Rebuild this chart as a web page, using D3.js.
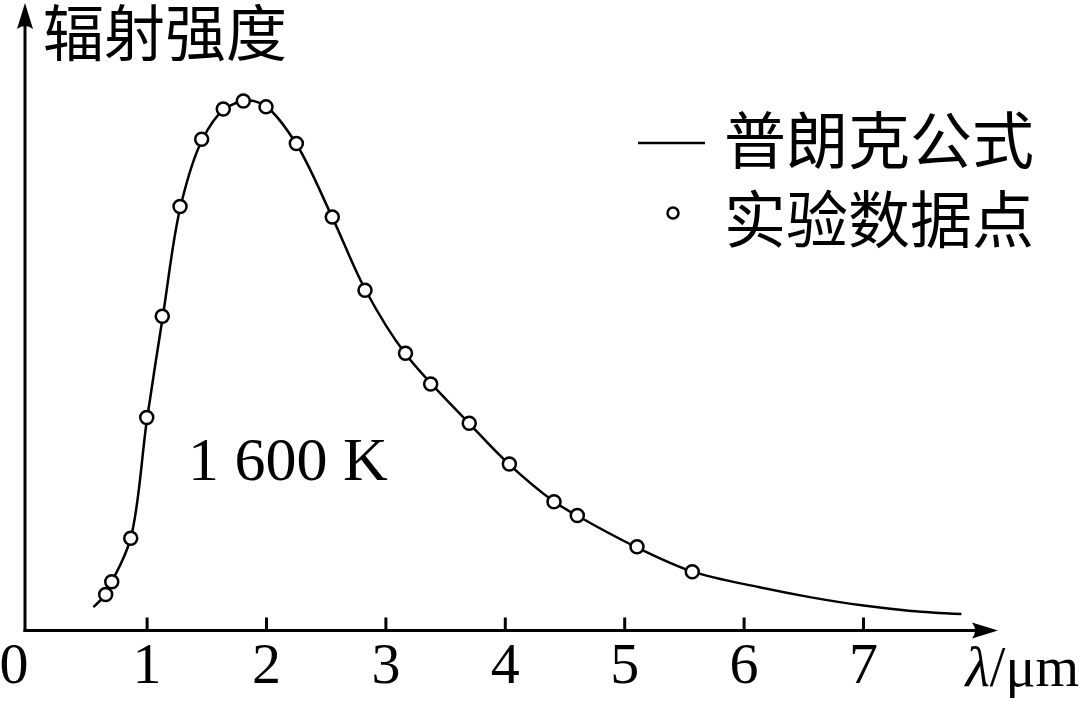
<!DOCTYPE html>
<html>
<head>
<meta charset="utf-8">
<script src="https://cdn.jsdelivr.net/npm/d3@7"></script>
<style>
  body { margin: 0; background: #fff; }
  svg { display: block; }
</style>
</head>
<body>
<svg class="chart"></svg>
<script>
var W = 1080, H = 704;

// measured points (wavelength in um, relative intensity)
var dataX = [0.653, 0.704, 0.863, 0.997, 1.127, 1.276, 1.457, 1.638, 1.806, 1.996, 2.250,
             2.551, 2.825, 3.164, 3.375, 3.698, 4.034, 4.408, 4.603, 5.103, 5.566];
var dataY = [0.068, 0.092, 0.174, 0.402, 0.593, 0.800, 0.927, 0.984, 0.999, 0.988, 0.919,
             0.780, 0.642, 0.523, 0.465, 0.391, 0.314, 0.243, 0.217, 0.158, 0.111];

// planck curve
var curveX = [0.55, 0.65, 0.70, 0.86, 1.0, 1.13, 1.28, 1.46, 1.64, 1.85, 2.0, 2.25, 2.55,
              2.83, 3.16, 3.70, 4.03, 4.41, 4.60, 5.10, 5.57, 6.13, 6.55, 7.0, 7.4, 7.82];
var curveY = [0.044, 0.068, 0.090, 0.172, 0.40, 0.59, 0.80, 0.925, 0.982, 1.0, 0.988, 0.918, 0.78,
              0.642, 0.523, 0.39, 0.314, 0.243, 0.217, 0.157, 0.111, 0.0815, 0.063, 0.047, 0.037, 0.031];

var xTicks = [1, 2, 3, 4, 5, 6, 7];
var yTitle = "辐射强度";
var xTitle = ["λ", "/μm"];
var legendItems = ["普朗克公式", "实验数据点"];
var tempLabel = "1 600 K";

var ox = 25, oy = 630.5;
var x = d3.scaleLinear().domain([0, 8]).range([27.7, 27.7 + 8 * 119.4]);
var y = d3.scaleLinear().domain([0, 1]).range([oy, oy - 530]);

var svg = d3.select('.chart')
  .attr("width", W)
  .attr("height", H);

var serif = "'Liberation Serif', 'DejaVu Serif', serif";
var cjk = "'Noto Sans CJK SC', sans-serif";

// axes
svg.append("line")
  .attr("x1", ox - 1.5).attr("y1", oy)
  .attr("x2", 990).attr("y2", oy)
  .attr("stroke", "#000").attr("stroke-width", 3);
svg.append("path")
  .attr("d", "M998," + oy + " L972," + (oy - 8) + " Q978," + oy + " 972," + (oy + 8) + " Z")
  .attr("fill", "#000");

svg.append("line")
  .attr("x1", ox).attr("y1", oy + 1.5)
  .attr("x2", ox).attr("y2", 12)
  .attr("stroke", "#000").attr("stroke-width", 3);
svg.append("path")
  .attr("d", "M" + ox + ",3 L" + (ox - 8) + ",29 Q" + ox + ",23 " + (ox + 8) + ",29 Z")
  .attr("fill", "#000");

// ticks
svg.selectAll(".tick")
  .data(xTicks)
  .enter().append("line")
  .attr("class", "tick")
  .attr("x1", function(d) { return x(d); })
  .attr("x2", function(d) { return x(d); })
  .attr("y1", oy).attr("y2", oy - 13)
  .attr("stroke", "#000").attr("stroke-width", 3);

svg.selectAll(".tlabel")
  .data([0].concat(xTicks))
  .enter().append("text")
  .attr("class", "tlabel")
  .attr("x", function(d) { return d == 0 ? 14 : x(d); })
  .attr("y", 683)
  .attr("text-anchor", "middle")
  .attr("font-family", serif)
  .attr("font-size", 58)
  .text(function(d) { return d; });

var xt = svg.append("text")
  .attr("x", 1079).attr("y", 686)
  .attr("text-anchor", "end")
  .attr("font-family", serif)
  .attr("font-size", 56);
xt.append("tspan").attr("font-style", "italic").text(xTitle[0]);
xt.append("tspan").text(xTitle[1]);

svg.append("text")
  .attr("x", 43).attr("y", 56)
  .attr("font-family", cjk)
  .attr("font-size", 61)
  .text(yTitle);

// curve
var line = d3.line()
  .x(function(d) { return x(d[0]); })
  .y(function(d) { return y(d[1]); })
  .curve(d3.curveCatmullRom.alpha(0.5));

svg.append("path")
  .datum(curveX.map(function(v, i) { return [v, curveY[i]]; }))
  .attr("d", line)
  .attr("fill", "none")
  .attr("stroke", "#000")
  .attr("stroke-width", 2.5);

svg.selectAll(".pt")
  .data(dataX.map(function(v, i) { return [v, dataY[i]]; }))
  .enter().append("circle")
  .attr("class", "pt")
  .attr("cx", function(d) { return x(d[0]); })
  .attr("cy", function(d) { return y(d[1]); })
  .attr("r", 6.5)
  .attr("fill", "#fff")
  .attr("stroke", "#000")
  .attr("stroke-width", 2.5);

svg.append("text")
  .attr("x", 188).attr("y", 480)
  .attr("font-family", serif)
  .attr("font-size", 62)
  .text(tempLabel);

// legend
svg.append("line")
  .attr("x1", 638).attr("x2", 705)
  .attr("y1", 143).attr("y2", 143)
  .attr("stroke", "#000").attr("stroke-width", 2.5);
svg.append("circle")
  .attr("cx", 673).attr("cy", 213).attr("r", 5.5)
  .attr("fill", "#fff").attr("stroke", "#000").attr("stroke-width", 2.5);

svg.selectAll(".leg")
  .data(legendItems)
  .enter().append("text")
  .attr("class", "leg")
  .attr("x", 724)
  .attr("y", function(d, i) { return 164 + i * 79; })
  .attr("font-family", cjk)
  .attr("font-size", 62)
  .text(String);
</script>
</body>
</html>
